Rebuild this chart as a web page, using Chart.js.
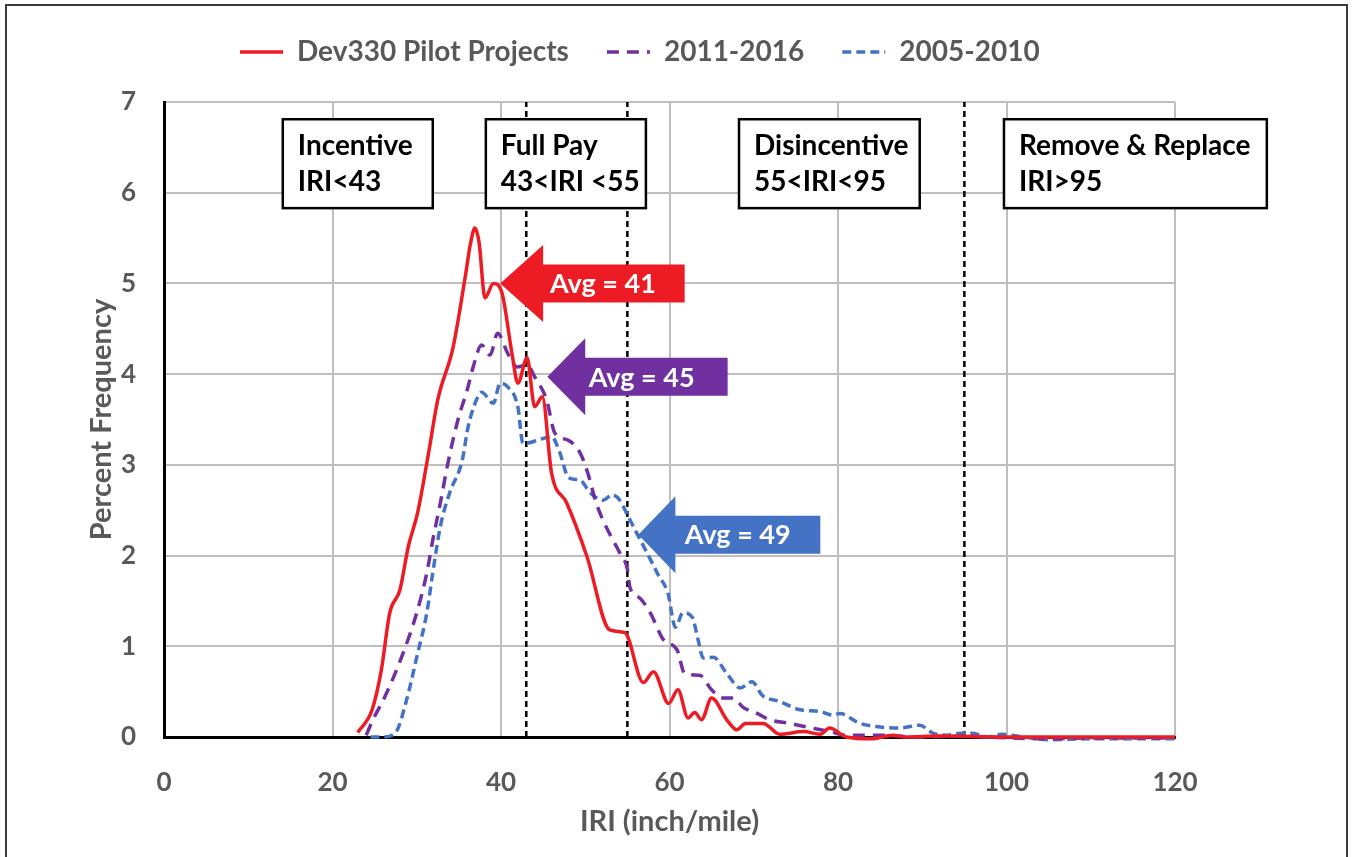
<!DOCTYPE html>
<html>
<head>
<meta charset="utf-8">
<script src="https://cdn.jsdelivr.net/npm/chart.js@4.4.1/dist/chart.umd.min.js"></script>
<style>
  html, body { margin: 0; padding: 0; background: #fff; }
  #wrap { position: relative; width: 1354px; height: 857px; overflow: hidden; }
  #frame { position: absolute; left: 5px; top: 4px; width: 1339px; height: 900px;
           border: 2px solid #3c3c3c; border-bottom: none; pointer-events: none; }
</style>
</head>
<body>
<div id="wrap">
  <canvas id="chart"></canvas>
  <div id="frame"></div>
</div>
<script>
// --- data ---
const pilotX = [23, 24.7, 25.8, 26.8, 28, 29, 30.1, 31.4, 32.5, 34.3, 35.7, 36.4, 36.9, 37.4, 38.1, 39.1, 40.1, 41.3, 42, 43.1, 44, 44.9, 46, 47.8, 50.2, 52.9, 54.7, 56.9, 58.1, 59.9, 61, 62.2, 63, 63.8, 65, 66.8, 68, 69, 71.1, 73.1, 75.9, 77.9, 79, 81, 84, 86.5, 88, 92, 100, 110, 120];
const pilotY = [0.05, 0.3, 0.74, 1.37, 1.62, 2.1, 2.47, 3.13, 3.72, 4.29, 5.04, 5.45, 5.61, 5.45, 4.84, 5.0, 4.9, 4.23, 3.9, 4.18, 3.64, 3.75, 2.91, 2.58, 1.99, 1.18, 1.15, 0.6, 0.72, 0.37, 0.52, 0.21, 0.27, 0.19, 0.43, 0.19, 0.08, 0.15, 0.15, 0.03, 0.06, 0.03, 0.1, 0, -0.02, 0.02, 0, 0.01, 0, 0, 0];

const recentX = [24, 24.8, 26.2, 28.2, 30, 31.2, 31.9, 32.8, 33.7, 34.9, 36, 36.7, 37.7, 38.7, 39.6, 40.8, 41.9, 43.1, 44, 45.4, 46.4, 48, 49.4, 50.3, 51.2, 52.1, 53.3, 54.1, 55, 55.3, 56.5, 57.7, 59.3, 60.9, 61.8, 63.6, 65, 66.4, 67.6, 68.7, 70.4, 71.9, 74.3, 76.3, 79, 81, 84.6, 90, 95, 100, 105, 110, 120];
const recentY = [0.02, 0.19, 0.44, 0.88, 1.37, 1.81, 2.17, 2.58, 3.02, 3.5, 3.83, 4.08, 4.32, 4.21, 4.45, 4.23, 4.08, 4.1, 3.97, 3.72, 3.35, 3.27, 3.13, 2.91, 2.61, 2.39, 2.17, 2.03, 1.85, 1.65, 1.53, 1.37, 1.07, 0.96, 0.7, 0.68, 0.52, 0.43, 0.43, 0.33, 0.26, 0.19, 0.15, 0.11, 0.06, 0.02, 0.02, 0, 0.01, -0.01, -0.02, -0.01, -0.01];

const olderX = [24.5, 26, 27.5, 28.8, 30, 31.2, 31.9, 32.8, 33.9, 35.4, 36.1, 37.1, 37.7, 39.1, 39.9, 40.8, 42, 42.6, 43.1, 44.3, 46, 47, 48, 49.4, 50.6, 52.1, 53.2, 54.1, 55.1, 56.1, 57.5, 58.7, 59.8, 60.7, 61.6, 62.7, 63.4, 64, 65.2, 66.8, 68.4, 69.8, 71, 73.1, 75.5, 77.9, 79.4, 80.2, 82.6, 85, 87.4, 89.7, 91.3, 92.9, 94.5, 96, 97.7, 99.4, 102, 105, 110, 115, 120];
const olderY = [0, 0, 0.05, 0.41, 0.88, 1.37, 1.81, 2.32, 2.69, 3.05, 3.42, 3.72, 3.8, 3.68, 3.9, 3.86, 3.64, 3.24, 3.24, 3.27, 3.31, 3.13, 2.86, 2.83, 2.69, 2.61, 2.67, 2.61, 2.43, 2.25, 2.0, 1.78, 1.59, 1.21, 1.37, 1.32, 1.07, 0.87, 0.88, 0.7, 0.54, 0.61, 0.46, 0.39, 0.3, 0.28, 0.24, 0.26, 0.15, 0.11, 0.1, 0.13, 0.04, 0.02, 0.04, 0.04, 0, 0.03, 0, -0.03, -0.02, -0.02, -0.02];

const seriesNames = ['Dev330 Pilot Projects', '2011-2016', '2005-2010'];
const limitLines = [43, 55, 95];
const xTicks = [0, 20, 40, 60, 80, 100, 120];
const yTicks = [0, 1, 2, 3, 4, 5, 6, 7];

// annotation boxes and arrows (data units)
const zoneBoxes = [
  { x1: 14.1, x2: 31.9, lines: ['Incentive', 'IRI<43'] },
  { x1: 38.2, x2: 57.2, lines: ['Full Pay', '43<IRI <55'] },
  { x1: 68.25, x2: 89.7, lines: ['Disincentive', '55<IRI<95'] },
  { x1: 99.7, x2: 130.9, lines: ['Remove & Replace', 'IRI>95'] },
];
const avgArrows = [
  { tipX: 39.9, tipY: 5.0, baseX: 45.0, endX: 61.8, textX: 52.1, label: 'Avg = 41', color: '#ED1C24' },
  { tipX: 45.5, tipY: 3.97, baseX: 50.0, endX: 66.9, textX: 56.7, label: 'Avg = 45', color: '#7030A0' },
  { tipX: 56.3, tipY: 2.23, baseX: 60.7, endX: 77.9, textX: 68.1, label: 'Avg = 49', color: '#4472C4' },
];

const FONT = 'Lato, "Open Sans", sans-serif';
const GRAY = '#595959';

const pts = (xs, ys) => xs.map((x, i) => ({ x, y: ys[i] }));

const datasets = [
  { label: seriesNames[0], data: pts(pilotX, pilotY), borderColor: '#ED1C24', borderWidth: 3.5 },
  { label: seriesNames[1], data: pts(recentX, recentY), borderColor: '#7030A0', borderWidth: 3.5, borderDash: [12, 8] },
  { label: seriesNames[2], data: pts(olderX, olderY), borderColor: '#4472C4', borderWidth: 3.5, borderDash: [9, 5] },
].map(d => Object.assign(d, {
  pointRadius: 0, fill: false, cubicInterpolationMode: 'monotone', clip: 8, backgroundColor: d.borderColor,
}));

limitLines.forEach(v => {
  datasets.push({
    label: 'limit ' + v,
    data: [{ x: v, y: 0 }, { x: v, y: yTicks[yTicks.length - 1] }],
    borderColor: '#000', borderWidth: 2.5, borderDash: [6, 4], pointRadius: 0, tension: 0,
  });
});

const annotations = {
  id: 'annotations',
  afterDatasetsDraw(chart) {
    const { ctx, scales: { x, y } } = chart;
    ctx.save();
    // zone boxes
    const top = y.getPixelForValue(6.81), bottom = y.getPixelForValue(5.83);
    zoneBoxes.forEach(b => {
      const l = x.getPixelForValue(b.x1), r = x.getPixelForValue(b.x2);
      ctx.fillStyle = '#fff';
      ctx.fillRect(l, top, r - l, bottom - top);
      ctx.strokeStyle = '#000';
      ctx.lineWidth = 2.5;
      ctx.strokeRect(l, top, r - l, bottom - top);
      ctx.fillStyle = '#000';
      ctx.font = 'bold 28px ' + FONT;
      ctx.textBaseline = 'middle';
      ctx.textAlign = 'left';
      const mid = (top + bottom) / 2;
      ctx.fillText(b.lines[0], l + 15, mid - 18);
      ctx.fillText(b.lines[1], l + 15, mid + 18);
    });
    // average arrows
    avgArrows.forEach(a => {
      const tx = x.getPixelForValue(a.tipX), ty = y.getPixelForValue(a.tipY);
      const bx = x.getPixelForValue(a.baseX), ex = x.getPixelForValue(a.endX);
      const head = 38.5, body = 19;
      ctx.beginPath();
      ctx.moveTo(tx, ty);
      ctx.lineTo(bx, ty - head);
      ctx.lineTo(bx, ty - body);
      ctx.lineTo(ex, ty - body);
      ctx.lineTo(ex, ty + body);
      ctx.lineTo(bx, ty + body);
      ctx.lineTo(bx, ty + head);
      ctx.closePath();
      ctx.fillStyle = a.color;
      ctx.fill();
      ctx.fillStyle = '#fff';
      ctx.font = 'bold 27px ' + FONT;
      ctx.textAlign = 'center';
      ctx.textBaseline = 'middle';
      ctx.fillText(a.label, x.getPixelForValue(a.textX), ty + 1);
    });
    ctx.restore();
  },
};

const LEGEND_PAD = 38;
const legendPlace = {
  id: 'legendPlace',
  afterInit(chart) {
    const lg = chart.legend;
    const fit = lg.fit;
    lg.fit = function () { fit.call(this); this.height = 102; };
  },
  afterLayout(chart) {
    const lg = chart.legend;
    const w = lg.width, h = lg.height;
    lg.left = 240 - LEGEND_PAD;
    lg.right = lg.left + w;
    lg.top = 52 - LEGEND_PAD - 14;
    lg.bottom = lg.top + h;
  },
};

new Chart(document.getElementById('chart'), {
  type: 'line',
  data: { datasets },
  plugins: [legendPlace, annotations],
  options: {
    responsive: true,
    maintainAspectRatio: false,
    animation: false,
    layout: { padding: { left: 0, right: 179, top: 0, bottom: 0 } },
    plugins: {
      tooltip: { enabled: false },
      legend: {
        position: 'top',
        align: 'start',
        labels: {
          generateLabels: chart => Chart.defaults.plugins.legend.labels.generateLabels(chart)
            .filter(item => item.datasetIndex < 3)
            .map(item => Object.assign(item, {
              lineDash: chart.data.datasets[item.datasetIndex].borderDash || [],
              lineWidth: 3.5,
            })),
          usePointStyle: true,
          pointStyle: 'line',
          pointStyleWidth: 43,
          padding: LEGEND_PAD,
          color: GRAY,
          font: { family: FONT, size: 28, weight: 'bold' },
        },
      },
    },
    scales: {
      x: {
        type: 'linear',
        min: 0, max: 120,
        afterBuildTicks: s => { s.ticks = xTicks.map(v => ({ value: v })); },
        afterFit: s => { s.height = 120; },
        grid: { color: '#BFBFBF', lineWidth: 2, drawTicks: false },
        border: { color: '#000', width: 3 },
        ticks: { color: GRAY, padding: 30, maxRotation: 0, font: { family: FONT, size: 26, weight: 'bold' } },
        title: { display: true, text: 'IRI (inch/mile)', color: GRAY, padding: { top: 0, bottom: 18 },
                 font: { family: FONT, size: 29, weight: 'bold' } },
      },
      y: {
        min: 0, max: 7,
        afterBuildTicks: s => { s.ticks = yTicks.map(v => ({ value: v })); },
        afterFit: s => { s.width = 164; },
        grid: { color: '#BFBFBF', lineWidth: 2, drawTicks: false },
        border: { color: '#000', width: 3 },
        ticks: { color: GRAY, padding: 28, font: { family: FONT, size: 26, weight: 'bold' } },
        title: { display: true, text: 'Percent Frequency', color: GRAY, padding: { top: 84, bottom: 0 },
                 font: { family: FONT, size: 29, weight: 'bold' } },
      },
    },
  },
});
document.getElementById('chart').parentNode.style.height = '857px';
</script>
</body>
</html>
